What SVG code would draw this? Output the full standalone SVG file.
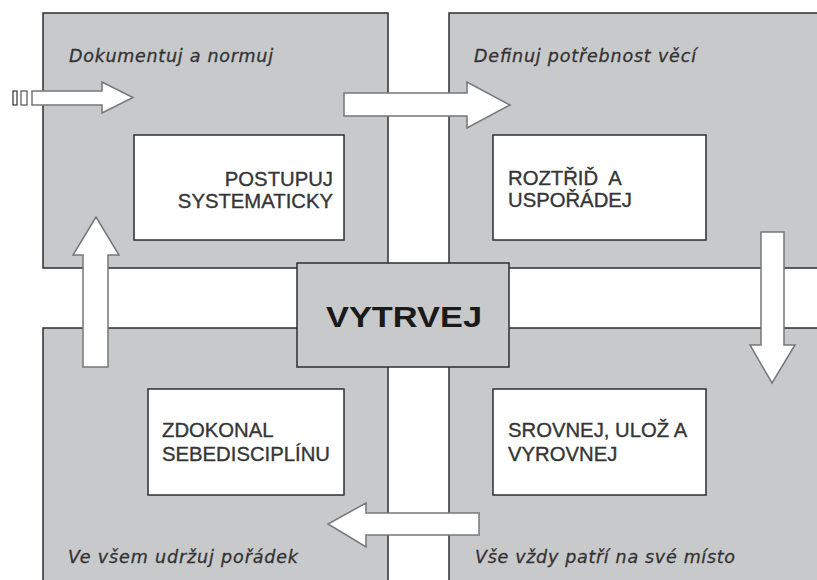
<svg xmlns="http://www.w3.org/2000/svg" width="817" height="580" viewBox="0 0 817 580">
<style>
.quad{fill:#c8c9cb;stroke:#2e2e2e;stroke-width:1.5}
.box{fill:#ffffff;stroke:#2e2e2e;stroke-width:1.5}
.center{fill:#c8c9cb;stroke:#2e2e2e;stroke-width:1.5}
.arrow{fill:#ffffff;stroke:#777777;stroke-width:1.5;stroke-linejoin:miter}
.lbl{font-family:"DejaVu Sans","Liberation Sans",sans-serif;font-style:italic;font-size:17.5px;fill:#333333;stroke:#333333;stroke-width:0.3}
.txt{font-family:"Liberation Sans",Arial,sans-serif;font-size:20.3px;fill:#353535;stroke:#353535;stroke-width:0.35}
.big{font-family:"Liberation Sans",Arial,sans-serif;font-size:29px;font-weight:bold;fill:#1a1a1a}
</style>
<rect width="817" height="580" fill="#ffffff"/>
<g id="q-top-left">
<rect class="quad" x="43" y="13" width="345" height="255"/>
<text class="lbl" x="69" y="62" textLength="204" lengthAdjust="spacing">Dokumentuj a normuj</text>
</g>
<g id="q-top-right">
<rect class="quad" x="449" y="13" width="380" height="255"/>
<text class="lbl" x="474" y="62" textLength="222" lengthAdjust="spacing">Definuj potřebnost věcí</text>
</g>
<g id="q-bottom-left">
<rect class="quad" x="43" y="328" width="345" height="262"/>
<text class="lbl" x="68" y="563" textLength="230" lengthAdjust="spacing">Ve všem udržuj pořádek</text>
</g>
<g id="q-bottom-right">
<rect class="quad" x="449" y="328" width="380" height="262"/>
<text class="lbl" x="475" y="563" textLength="260" lengthAdjust="spacing">Vše vždy patří na své místo</text>
</g>
<g id="n-postupuj">
<rect class="box" x="134" y="135" width="210" height="105"/>
<text class="txt" x="333" y="186" text-anchor="end">POSTUPUJ</text>
<text class="txt" x="333" y="208" text-anchor="end">SYSTEMATICKY</text>
</g>
<g id="n-roztrid">
<rect class="box" x="493" y="135" width="213" height="105"/>
<text class="txt" x="508" y="185" xml:space="preserve">ROZTŘIĎ  A</text>
<text class="txt" x="508" y="207">USPOŘÁDEJ</text>
</g>
<g id="n-zdokonal">
<rect class="box" x="148" y="389" width="196" height="106"/>
<text class="txt" x="162" y="437">ZDOKONAL</text>
<text class="txt" x="162" y="461">SEBEDISCIPLÍNU</text>
</g>
<g id="n-srovnej">
<rect class="box" x="493" y="389" width="213" height="106"/>
<text class="txt" x="508" y="437">SROVNEJ, ULOŽ A</text>
<text class="txt" x="508" y="461">VYROVNEJ</text>
</g>
<g id="n-vytrvej">
<rect class="center" x="297" y="263" width="212" height="104"/>
<text class="big" x="326" y="327" textLength="156" lengthAdjust="spacingAndGlyphs">VYTRVEJ</text>
</g>
<g id="connectors">
<rect x="13" y="91" width="4" height="14" fill="#ffffff" stroke="#333333" stroke-width="1.2"/>
<rect x="21" y="91" width="6" height="14" fill="#ffffff" stroke="#555555" stroke-width="1.2"/>
<polygon class="arrow" points="32,91 102,91 102,82 133,97.5 102,113 102,105 32,105"/>
<polygon class="arrow" points="344,93 467,93 467,82 510,105 467,128 467,116 344,116"/>
<polygon class="arrow" points="761,232 784,232 784,345 795,345 772,383 750,345 761,345"/>
<polygon class="arrow" points="479,513 479,535 366,535 366,547 328,524 366,503 366,513"/>
<polygon class="arrow" points="83,367 83,255 73,255 96,217 119,255 108,255 108,367"/>
</g>
</svg>
